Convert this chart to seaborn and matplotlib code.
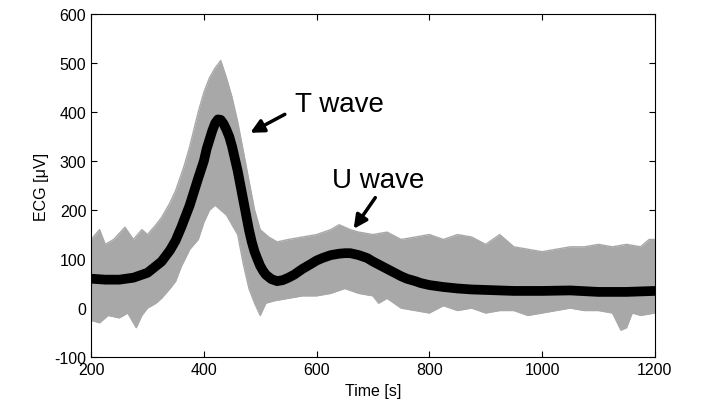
import numpy as np
import pandas as pd
import seaborn as sns
import matplotlib.pyplot as plt

# mean beat (thick black curve)
mean_t = [200, 225, 250, 275, 300, 325, 340, 350, 360, 375, 390, 400, 405, 415, 420,
          425, 430, 435, 440, 445, 450, 455, 460, 465, 470, 475, 480, 485, 490, 495,
          500, 505, 510, 520, 530, 540, 550, 560, 575, 590, 600, 610, 625, 640, 650,
          660, 675, 690, 700, 710, 725, 740, 750, 760, 775, 785, 800, 825, 850, 875,
          900, 950, 1000, 1050, 1100, 1150, 1200]
mean_v = [60, 58, 58, 62, 72, 95, 118, 138, 165, 210, 265, 300, 325, 362, 377,
          385, 384, 376, 364, 350, 330, 305, 280, 250, 220, 190, 160, 135, 115, 100,
          86, 76, 68, 59, 55, 57, 62, 68, 80, 90, 97, 102, 108, 111, 112,
          112, 108, 102, 95, 89, 80, 71, 65, 60, 55, 51, 47, 43, 40, 38,
          37, 35, 35, 36, 33, 33, 35]

# upper edge of the grey cloud of single beats
upper_t = [200, 215, 225, 240, 260, 275, 290, 300, 315, 325, 340, 350, 365, 375, 390,
           400, 410, 420, 430, 440, 450, 460, 470, 480, 490, 500, 515, 530, 550, 575,
           600, 625, 640, 660, 675, 700, 725, 750, 775, 800, 825, 850, 875, 900, 925,
           950, 975, 1000, 1025, 1050, 1075, 1100, 1125, 1150, 1175, 1190, 1200]
upper_v = [140, 160, 130, 140, 165, 140, 160, 150, 170, 185, 215, 240, 290, 330, 400,
           440, 470, 490, 505, 470, 430, 380, 320, 260, 200, 160, 145, 135, 140, 145,
           150, 160, 170, 160, 155, 150, 155, 140, 145, 150, 140, 150, 145, 130, 150,
           125, 120, 115, 120, 125, 125, 130, 125, 130, 125, 140, 140]

# lower edge of the grey cloud
lower_t = [200, 215, 230, 250, 265, 280, 290, 300, 315, 325, 340, 350, 360, 375, 390,
           400, 410, 420, 430, 440, 450, 460, 470, 480, 490, 500, 510, 525, 550, 575,
           600, 625, 650, 675, 700, 710, 725, 750, 775, 800, 825, 850, 875, 900, 925,
           950, 975, 1000, 1025, 1050, 1075, 1100, 1125, 1140, 1150, 1160, 1175, 1200]
lower_v = [-25, -30, -15, -20, -10, -40, -15, 0, 10, 20, 40, 55, 85, 120, 140,
           175, 200, 210, 200, 190, 170, 150, 90, 40, 10, -15, 10, 15, 20, 25,
           25, 30, 40, 30, 25, 10, 20, 0, -5, -10, 5, -5, 0, -10, -5,
           -5, -15, -10, -5, 0, -5, -5, -10, -45, -40, -10, -15, -10]

sns.set_style('ticks')
plt.rcParams['font.family'] = ['Liberation Sans', 'DejaVu Sans']
plt.rcParams['axes.unicode_minus'] = False
for k in ['text.color', 'axes.labelcolor', 'xtick.color', 'ytick.color', 'axes.edgecolor']:
    plt.rcParams[k] = 'black'

fig, ax = plt.subplots(figsize=(7.01, 4.06), dpi=100)
fig.subplots_adjust(left=0.13, right=0.934, top=0.963, bottom=0.118)

grey = '#a8a8a8'
# grey band: interpolate both edges onto a common grid only for filling
grid = np.union1d(upper_t, lower_t)
ax.fill_between(grid, np.interp(grid, lower_t, lower_v), np.interp(grid, upper_t, upper_v),
                color=grey, lw=0)
sns.lineplot(x=upper_t, y=upper_v, color=grey, lw=1, ax=ax)
sns.lineplot(x=lower_t, y=lower_v, color=grey, lw=1, ax=ax)

sns.lineplot(x=mean_t, y=mean_v, color='black', lw=7, ax=ax)

arrow = dict(arrowstyle='-|>', color='black', lw=2.5, mutation_scale=20)
ax.annotate('', xy=(478, 355), xytext=(548, 398), arrowprops=arrow)
ax.text(561, 416, 'T wave', fontsize=20, va='center', ha='left')
ax.annotate('', xy=(663, 157), xytext=(707, 230), arrowprops=arrow)
ax.text(628, 261, 'U wave', fontsize=20, va='center', ha='left')

ax.set_xlim(200, 1200)
ax.set_ylim(-100, 600)
ax.set_xticks([200, 400, 600, 800, 1000, 1200])
ax.set_yticks([-100, 0, 100, 200, 300, 400, 500, 600])
ax.tick_params(direction='in', top=True, right=True, labelsize=11.5, length=4)
for s in ax.spines.values():
    s.set_linewidth(0.8)
ax.set_xlabel('Time [s]', fontsize=11.5)
ax.set_ylabel('ECG [μV]', fontsize=11.5)

fig.savefig('out.png', dpi=100)
